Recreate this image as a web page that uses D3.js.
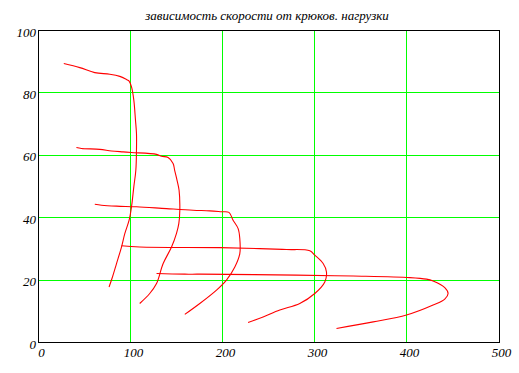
<!DOCTYPE html>
<html><head><meta charset="utf-8">
<script src="https://cdn.jsdelivr.net/npm/d3@7"></script>
<style>
html,body{margin:0;padding:0;background:#fff;}
svg text{font-family:"Liberation Serif","Times New Roman",serif;font-style:italic;fill:#000;}
</style></head>
<body>
<svg id="c" width="519" height="373"></svg>
<script>
const title = "зависимость скорости от крюков. нагрузки";
const xTicks = [0, 100, 200, 300, 400, 500];
const yTicks = [0, 20, 40, 60, 80, 100];

const curve1 = [[27.5,89.4],[44.9,88.1],[61.2,86.5],[77.5,86],[88.4,85.3],[95.6,84.3],[98.5,83.8],[101.1,81.9],[103.6,77.7],[105.4,71.3],[106.5,67],[106.5,61.6],[105.8,55.2],[103.6,49.9],[101.1,43.5],[98.5,39.2],[93.8,34.9],[90.2,30.6],[84.8,25.3],[80.4,21],[76.7,17.8]];
const curve2 = [[41.2,62.5],[46.7,62.2],[66.6,61.9],[79.3,61.4],[92,61.1],[101,60.9],[128.3,60.3],[133.7,59.7],[140.9,59.3],[146.3,57.4],[148,55.2],[150.6,52],[152.8,48.8],[153.6,42.4],[152.5,38.1],[150,35],[144.6,30.6],[135.5,25.3],[128.3,18.9],[120.9,15.7],[110,12.5]];
const curve3 = [[61.2,44.3],[68.5,44],[84.8,43.7],[106.5,43.5],[139.1,42.9],[168,42.4],[186.2,42.2],[199,41.9],[207,41.7],[211.5,39.2],[217,36.5],[218.8,33.3],[218.8,28.5],[213.4,24.2],[204.3,20],[193.5,16.8],[175.3,12.5],[159,9]];
const curve4 = [[90.2,31],[110,30.6],[197,30.4],[240.5,30.1],[269.6,29.8],[294.9,29.4],[300.3,28],[309.4,25.3],[313,22.6],[311.2,19.4],[300.3,15.7],[284,12.5],[262.3,10.4],[244.1,8.2],[227.8,6.4]];
const curve5 = [[128.3,22.1],[159,21.9],[175.3,21.9],[280.4,21.6],[342,21.3],[403.6,20.8],[421.7,20.3],[428.9,19.7],[441.6,17.6],[445.2,15.7],[441.6,13.9],[428.9,12],[400,8.8],[363.8,6.6],[323.9,4.5]];
const curves = [curve1, curve2, curve3, curve4, curve5];

const svg = d3.select("#c");
const x = d3.scaleLinear().domain([0, 500]).range([38.5, 498.5]);
const y = d3.scaleLinear().domain([0, 100]).range([342.5, 30.5]);

// grid
const g = svg.append("g").attr("shape-rendering", "crispEdges");
g.selectAll(".vx").data(xTicks.slice(1, -1)).enter().append("line")
  .attr("x1", d => x(d)).attr("x2", d => x(d)).attr("y1", y(0)).attr("y2", y(100))
  .attr("stroke", "#00ff00").attr("stroke-width", 1);
g.selectAll(".hy").data(yTicks.slice(1, -1)).enter().append("line")
  .attr("y1", d => y(d)).attr("y2", d => y(d)).attr("x1", x(0)).attr("x2", x(500))
  .attr("stroke", "#00ff00").attr("stroke-width", 1);

// curves
const line = d3.line().x(d => x(d[0])).y(d => y(d[1])).curve(d3.curveCatmullRom.alpha(0.5));
svg.append("g").selectAll("path").data(curves).enter().append("path")
  .attr("d", line).attr("fill", "none").attr("stroke", "#ff0000").attr("stroke-width", 1.1);

// frame
svg.append("rect").attr("x", x(0)).attr("y", y(100))
  .attr("width", x(500) - x(0) + 1).attr("height", y(0) - y(100))
  .attr("fill", "none").attr("stroke", "#000").attr("stroke-width", 1)
  .attr("shape-rendering", "crispEdges");

// tick labels
svg.append("g").selectAll("text").data(xTicks).enter().append("text")
  .attr("x", d => x(d) + 3).attr("y", 357).attr("text-anchor", "middle")
  .attr("font-size", 13).text(d => d);
svg.append("g").selectAll("text").data(yTicks).enter().append("text")
  .attr("x", 36).attr("y", d => y(d) + 6).attr("text-anchor", "end")
  .attr("font-size", 13).text(d => d);

// title
svg.append("text").attr("x", 267).attr("y", 20).attr("text-anchor", "middle")
  .attr("font-size", 13).text(title);
</script>
</body></html>
